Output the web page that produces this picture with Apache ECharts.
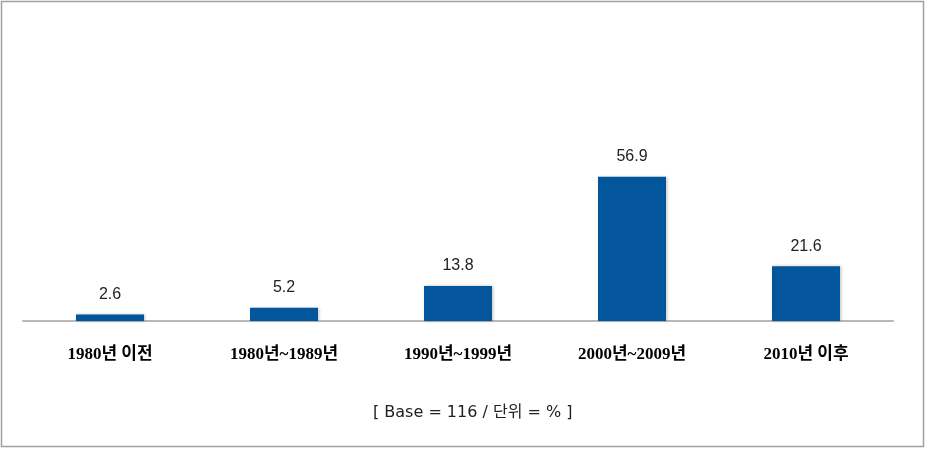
<!DOCTYPE html>
<html><head><meta charset="utf-8">
<script src="https://cdn.jsdelivr.net/npm/echarts@6/dist/echarts.min.js"></script>
<style>html,body{margin:0;padding:0;background:#fff}#c{width:926px;height:449px}</style>
</head><body><div id="c"></div>
<script>
const categories = ['1980년 이전', '1980년~1989년', '1990년~1999년', '2000년~2009년', '2010년 이후'];
const values = [2.6, 5.2, 13.8, 56.9, 21.6];
const footnote = '[ Base = 116 / 단위 = % ]';

const chart = echarts.init(document.getElementById('c'));
chart.setOption({
  animation: false,
  backgroundColor: '#fff',
  grid: { left: 23, right: 33, top: 169, bottom: 128 },
  xAxis: {
    type: 'category', data: categories,
    axisLine: { lineStyle: { color: '#b8b8b8', width: 2 } },
    axisTick: { show: false },
    axisLabel: { margin: 25, color: '#000', fontSize: 17, fontWeight: 'bold', fontFamily: '"Liberation Serif", "Noto Sans CJK KR", serif' }
  },
  yAxis: { type: 'value', min: 0, max: 60, show: false, splitLine: { show: false } },
  series: [{
    type: 'bar', data: values, barWidth: 68,
    itemStyle: { color: '#03569b', shadowColor: 'rgba(0,0,0,0.25)', shadowBlur: 3, shadowOffsetX: 1, shadowOffsetY: 0 },
    label: { show: true, position: 'top', distance: 12, color: '#222', fontSize: 16, fontFamily: '"Liberation Sans", Arial, sans-serif', formatter: p => p.value.toFixed(1) }
  }],
  graphic: [
    { type: 'rect', shape: { x: 1.5, y: 1.5, width: 922, height: 445 }, style: { fill: 'none', stroke: '#a0a0a0', lineWidth: 1.5 } },
    { type: 'text', left: 373, top: 405, style: { text: footnote, fill: '#222', fontSize: 16, fontFamily: '"DejaVu Sans", "Noto Sans CJK KR", sans-serif' } }
  ]
});
</script></body></html>
